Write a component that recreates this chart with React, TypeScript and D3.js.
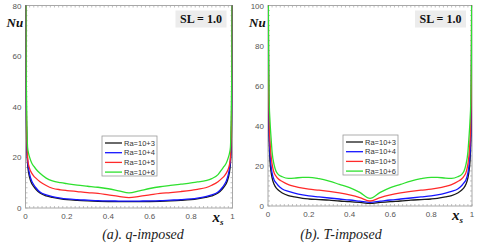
import React from 'react'
import * as d3 from 'd3'

// shared x positions (x_s)
const xs = [0, 0.003, 0.006, 0.01, 0.015, 0.02, 0.03, 0.04, 0.05, 0.07, 0.1, 0.13, 0.17, 0.2, 0.25, 0.3, 0.35, 0.4, 0.45, 0.5,
  0.55, 0.6, 0.65, 0.7, 0.75, 0.8, 0.83, 0.87, 0.9, 0.93, 0.95, 0.96, 0.97, 0.98, 0.985, 0.99, 0.994, 0.997, 1]

const legendLabels = ['Ra=10+3', 'Ra=10+4', 'Ra=10+5', 'Ra=10+6']
const colors = ['#1a1a1a', '#1515ff', '#ff2a2a', '#2fe02f']

// (a) q-imposed
const qRa3 = [95, 42, 25, 17.5, 14, 12, 9.7, 8.4, 7.4, 5.9, 4.8, 4.2, 3.6, 3.3, 3.0, 2.8, 2.65, 2.55, 2.5, 2.5,
  2.5, 2.55, 2.65, 2.8, 3.0, 3.3, 3.6, 4.2, 4.8, 5.9, 7.4, 8.4, 9.7, 12, 14, 17.5, 25, 42, 95]
const qRa4 = [100, 45, 27, 19, 15.5, 13.3, 10.7, 9.2, 8.0, 6.3, 5.2, 4.5, 3.9, 3.6, 3.3, 3.1, 2.9, 2.8, 2.75, 2.7,
  2.75, 2.8, 2.9, 3.1, 3.3, 3.6, 3.9, 4.5, 5.2, 6.3, 8.0, 9.2, 10.7, 13.3, 15.5, 19, 27, 45, 100]
const qRa5 = [110, 50, 30, 20, 17, 15.5, 13.8, 12.6, 11.8, 10.4, 8.9, 7.8, 7.2, 6.9, 6.5, 6.1, 5.8, 5.2, 4.6, 4.1,
  4.6, 5.2, 5.8, 6.1, 6.5, 7.0, 7.4, 8.0, 9.0, 10.4, 11.8, 12.6, 13.8, 15.5, 17, 20, 30, 50, 110]
const qRa6 = [120, 60, 38, 24, 21.5, 20, 17.8, 16.5, 15.4, 13.7, 11.8, 10.7, 10.0, 9.6, 9.0, 8.6, 8.2, 7.6, 6.8, 6.0,
  6.8, 7.7, 8.4, 8.9, 9.4, 9.9, 10.3, 10.8, 11.6, 13.2, 15.4, 16.5, 17.8, 20, 21.5, 24, 38, 60, 120]

// (b) T-imposed
const tRa3 = [120, 52, 32, 22, 17, 14, 10.8, 9.0, 8.0, 6.5, 5.2, 4.5, 3.8, 3.5, 3.2, 2.9, 2.5, 2.2, 1.8, 1.3,
  1.8, 2.2, 2.5, 2.9, 3.2, 3.5, 3.8, 4.5, 5.2, 6.5, 8.0, 9.0, 10.8, 14, 17, 22, 32, 52, 120]
const tRa4 = [130, 58, 36, 26, 20, 16.5, 13, 11.5, 10.2, 8.5, 7.3, 6.4, 5.5, 5.0, 4.5, 4.0, 3.5, 3.0, 2.4, 1.8,
  2.4, 3.0, 3.5, 4.0, 4.5, 5.0, 5.5, 6.4, 7.3, 8.5, 10.2, 11.5, 13, 16.5, 20, 26, 36, 58, 130]
const tRa5 = [140, 65, 42, 32, 25, 21, 16.5, 14.8, 13.6, 12.2, 10.7, 9.8, 8.9, 8.4, 7.9, 7.3, 6.5, 5.5, 4.2, 2.5,
  4.2, 5.5, 6.5, 7.3, 7.9, 8.4, 8.9, 9.8, 10.7, 12.2, 13.6, 14.8, 16.5, 21, 25, 32, 42, 65, 140]
const tRa6 = [150, 75, 52, 42, 34, 27, 20.5, 17.2, 15.8, 14.6, 13.8, 13.9, 14.3, 14.3, 13.6, 12.4, 10.8, 9.2, 6.8, 3.8,
  6.8, 9.2, 10.8, 12.4, 13.6, 14.3, 14.3, 13.9, 13.8, 14.6, 15.8, 17.2, 20.5, 27, 34, 42, 52, 75, 150]

const xTickLabels = ['0', '0.2', '0.4', '0.6', '0.8', '1']

const SERIF = "'Liberation Serif', 'Times New Roman', serif"
const SANS = "'Liberation Sans', Arial, sans-serif"

interface PanelProps {
  id: string
  left: number
  right: number
  top: number
  bottom: number
  yMax: number
  series: number[][]
  legendX: number
  legendY: number
  caption: string
  captionX: number
}

function Panel({ id, left, right, top, bottom, yMax, series, legendX, legendY, caption, captionX }: PanelProps) {
  const x = d3.scaleLinear().domain([0, 1]).range([left, right])
  const y = d3.scaleLinear().domain([0, yMax]).range([bottom, top])
  const line = d3.line<number>()
    .x((_, i) => x(xs[i]))
    .y(d => y(d))
    .curve(d3.curveMonotoneX)

  const minorX = d3.range(0, 1.0001, 0.02)
  const minorY = d3.range(0, yMax + 0.001, yMax / 40)
  const majorY = y.ticks(yMax / 20)

  return (
    <g>
      <defs>
        <clipPath id={id}>
          <rect x={left} y={top} width={right - left} height={bottom - top} />
        </clipPath>
      </defs>
      <rect x={left} y={top} width={right - left} height={bottom - top} fill="#fff" stroke="#a8a8a8" strokeWidth={1} />
      {/* minor ticks */}
      {minorX.map((v, i) => (
        <g key={'mx' + i} stroke="#a8a8a8" strokeWidth={0.7}>
          <line x1={x(v)} x2={x(v)} y1={bottom} y2={bottom - 2} />
          <line x1={x(v)} x2={x(v)} y1={top} y2={top + 2} />
        </g>
      ))}
      {minorY.map((v, i) => (
        <g key={'my' + i} stroke="#a8a8a8" strokeWidth={0.7}>
          <line x1={left} x2={left + 2} y1={y(v)} y2={y(v)} />
          <line x1={right} x2={right - 2} y1={y(v)} y2={y(v)} />
        </g>
      ))}
      {/* tick labels */}
      {majorY.map(v => (
        <text key={'yl' + v} x={left - 4} y={y(v) + 3} textAnchor="end" fontSize={8}
          fontFamily={SANS} fill="#555">{v}</text>
      ))}
      {xTickLabels.map((t, i) => (
        <text key={'xl' + t} x={x(i * 0.2)} y={bottom + 11} textAnchor="middle" fontSize={8}
          fontFamily={SANS} fill="#555">{t}</text>
      ))}
      {/* curves */}
      <g clipPath={`url(#${id})`}>
        {series.map((s, i) => (
          <path key={'s' + i} d={line(s) || ''} fill="none" stroke={colors[i]} strokeWidth={1.3} />
        ))}
      </g>
      {/* axis titles */}
      <text x={left - 19} y={top + 21} fontSize={13} fontWeight="bold" fontStyle="italic"
        fontFamily={SERIF} fill="#111">Nu</text>
      <text x={right - 20} y={bottom + 14} fontSize={15} fontWeight="bold" fontStyle="italic"
        fontFamily={SERIF} fill="#111">x
        <tspan fontSize={9} dy={3}>s</tspan>
      </text>
      {/* SL box */}
      <rect x={right - 57} y={top + 5} width={51} height={17} fill="#ececec" />
      <text x={right - 31.5} y={top + 17.5} textAnchor="middle" fontSize={12} fontWeight="bold"
        fontFamily={SERIF} fill="#111">SL = 1.0</text>
      {/* legend */}
      <rect x={legendX} y={legendY} width={55} height={40} fill="#fff" stroke="#999" strokeWidth={0.8} />
      {legendLabels.map((lab, i) => (
        <g key={lab}>
          <line x1={legendX + 3} x2={legendX + 20} y1={legendY + 7 + i * 9.7} y2={legendY + 7 + i * 9.7}
            stroke={colors[i]} strokeWidth={1.3} />
          <text x={legendX + 22} y={legendY + 9.5 + i * 9.7} fontSize={7.5}
            fontFamily={SANS} fill="#333">{lab}</text>
        </g>
      ))}
      {/* caption */}
      <text x={captionX} y={239} textAnchor="middle" fontSize={14} fontStyle="italic"
        fontFamily={SERIF} fill="#222">{caption}</text>
    </g>
  )
}

export default function App() {
  return (
    <svg width={480} height={244} style={{ position: 'absolute', left: 0, top: 0, background: '#fff' }}>
      <Panel id="clipA" left={25.5} right={232.5} top={5.5} bottom={208} yMax={80}
        series={[qRa3, qRa4, qRa5, qRa6]} legendX={102} legendY={136}
        caption="(a). q-imposed" captionX={143} />
      <Panel id="clipB" left={268} right={472} top={5.5} bottom={206} yMax={100}
        series={[tRa3, tRa4, tRa5, tRa6]} legendX={343} legendY={135}
        caption="(b). T-imposed" captionX={341} />
    </svg>
  )
}
